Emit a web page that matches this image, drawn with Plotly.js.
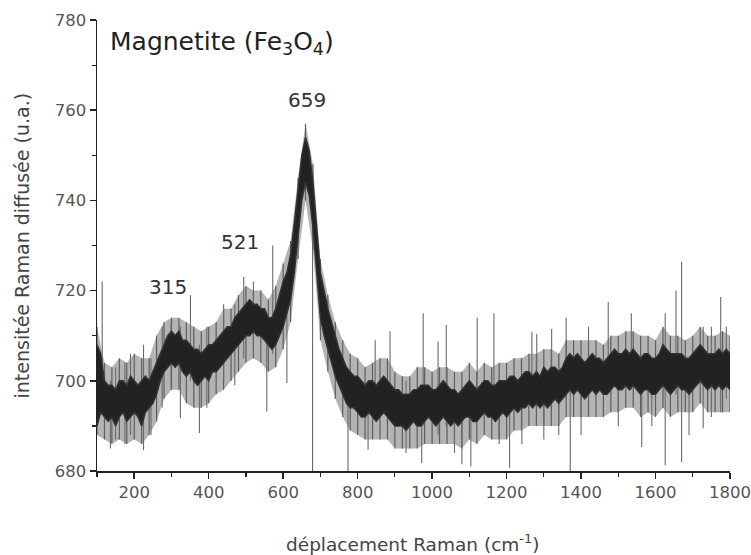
<!DOCTYPE html>
<html>
<head>
<meta charset="utf-8">
<script src="https://cdn.plot.ly/plotly-3.0.1.min.js"></script>
<style>html,body{margin:0;padding:0;background:#fff;}#chart{width:751px;height:555px;}</style>
</head>
<body>
<div id="chart"></div>
<script>
// Raman shift grid (cm-1) for the dense core of the spectrum, step 10
const bandX = [];
for (let v = 100; v <= 1800; v += 10) bandX.push(v);
// lower / upper edges of the dense (dark) band
const bandLow = [
690,693,692,691,692,690,692,693,691,692,693,692,690,693,694,695,697,700,702,703,
704,703,704,702,701,702,700,699,700,701,700,702,702,703,704,705,706,707,708,709,
710,710,711,710,710,709,708,707,708,710,712,715,718,724,732,740,744,741,734,724,
714,710,707,704,701,699,697,695,694,694,693,692,692,693,692,691,692,693,692,691,
690,690,690,689,690,691,690,690,691,692,691,690,691,692,691,690,691,690,691,692,
692,691,691,692,693,692,692,691,692,693,692,693,694,693,694,694,695,694,695,694,
695,694,695,696,695,696,697,698,697,698,697,696,697,698,697,698,697,697,698,699,
698,698,699,698,699,698,697,698,698,697,697,698,699,698,697,698,699,698,698,697,
698,699,700,699,698,699,698,699,698,699,698
];
const bandHigh = [
708,706,700,699,699,698,700,700,699,701,700,699,700,701,700,702,704,706,708,710,
711,710,711,709,709,708,707,707,706,707,708,708,709,710,711,712,712,714,715,716,
717,718,717,717,716,716,714,714,716,719,722,724,728,735,742,750,754,751,744,734,
724,720,716,713,710,707,705,703,702,701,701,700,699,700,700,699,700,701,700,699,
698,698,697,697,697,698,698,699,699,699,698,698,699,700,699,698,698,697,698,699,
700,699,698,699,700,700,699,699,700,700,700,701,701,700,701,702,702,701,702,701,
703,702,703,703,702,703,705,706,705,706,705,704,705,706,705,705,704,705,706,707,
706,706,707,706,707,706,705,706,706,705,705,706,708,707,706,706,706,706,705,705,
706,707,708,707,706,706,706,707,706,707,706
];
// outer, lighter noise envelope, step 20
const haloX = [];
for (let v = 100; v <= 1800; v += 20) haloX.push(v);
const haloLow = [
688,687,686,687,686,687,686,688,691,696,698,698,695,694,694,695,697,698,700,702,
704,705,704,702,703,707,713,727,740,729,709,702,696,692,689,688,687,687,687,687,
685,685,685,685,686,686,686,686,686,685,687,686,688,687,687,687,689,689,690,690,
690,690,690,692,692,692,692,692,692,693,693,694,694,692,693,692,694,692,693,693,
693,695,693,693,693,693
];
const haloHigh = [
712,704,703,705,704,706,705,705,710,713,714,714,713,712,711,712,713,716,716,719,
721,720,720,718,721,726,731,745,757,748,727,719,713,709,706,705,703,704,705,705,
702,701,701,703,703,702,703,703,702,702,704,702,704,703,704,704,705,705,706,706,
707,707,706,709,709,709,709,709,708,710,710,711,711,710,710,709,712,710,710,709,
710,712,710,710,711,710
];
// isolated noise spikes: position, bottom, top
const spikeX   = [114,136,150,175,190,225,245,275,299,324,351,375,395,440,470,494,520,556,572,610,679,774,828,847,887,930,972,976,1016,1038,1060,1080,1104,1121,1166,1180,1208,1241,1268,1281,1300,1321,1340,1360,1371,1400,1420,1473,1500,1535,1563,1590,1626,1655,1670,1690,1728,1750,1775,1790];
const spikeLow = [694,685,687,686,688,684.6,688,694,698,691.7,700,688.4,694,700,699,705,706,693.2,706,699.5,680,680,684.7,694,694,684,681.8,690,688,690,684,681.5,681,692,692,686,680.7,686,694,694,687,694,688,696,680,688,696,698,690,698,685.3,690,681.3,697,682,688,689.5,692,693,696];
const spikeHigh= [722,700,703,704,706,708,705,712,713,712,719,708,712,717,717,723,722,714,730,722,742,700,700,709,711,700,698,715,708.7,712.4,700,698,698,714,715,700,699,700,710.9,710.4,702,711.5,706,714,700,703,712,717.5,705,715,702,705,715,720,726.4,704,712,712,718.6,712];

const peakLabels = ['315','521','659'];
const peakLabelX = [291,485,665];
const peakLabelY = [720.8,730.8,762.3];

const sx = [], sy = [];
for (let i = 0; i < spikeX.length; i++) {
  sx.push(spikeX[i], spikeX[i], null);
  sy.push(spikeLow[i], spikeHigh[i], null);
}
// streaks of the outer noise, one per halo sample
const hx = [], hy = [];
for (let i = 0; i < haloX.length; i++) {
  hx.push(haloX[i], haloX[i], null);
  hy.push(haloLow[i], haloHigh[i], null);
}

const traces = [
  {x: haloX, y: haloLow, mode: 'lines', line: {width: 0}, hoverinfo: 'skip', showlegend: false},
  {x: haloX, y: haloHigh, mode: 'lines', line: {width: 0}, fill: 'tonexty', fillcolor: '#b4b4b4', hoverinfo: 'skip', showlegend: false},
  {x: hx, y: hy, mode: 'lines', line: {width: 1.2, color: '#5e5e5e'}, connectgaps: false, hoverinfo: 'skip', showlegend: false},
  {x: sx, y: sy, mode: 'lines', line: {width: 1.1, color: '#6a6a6a'}, connectgaps: false, hoverinfo: 'skip', showlegend: false},
  {x: bandX, y: bandLow, mode: 'lines', line: {width: 1.5, color: '#333'}, hoverinfo: 'skip', showlegend: false},
  {x: bandX, y: bandHigh, mode: 'lines', line: {width: 1.5, color: '#333'}, fill: 'tonexty', fillcolor: '#222', hoverinfo: 'skip', showlegend: false}
];

const font = 'DejaVu Sans, Arial, sans-serif';
const annotations = peakLabels.map((t, i) => ({
  x: peakLabelX[i], y: peakLabelY[i], xref: 'x', yref: 'y', text: t, showarrow: false,
  font: {family: font, size: 20, color: '#333'}, xanchor: 'center', yanchor: 'middle'
}));
annotations.push({
  x: 130, y: 775, xref: 'x', yref: 'y', text: 'Magnetite (Fe<sub>3</sub>O<sub>4</sub>)', showarrow: false,
  font: {family: font, size: 25, color: '#222'}, xanchor: 'left', yanchor: 'middle'
});
annotations.push({
  x: 0.499, y: -0.16, xref: 'paper', yref: 'paper', text: 'déplacement Raman (cm<sup>-1</sup>)', showarrow: false,
  font: {family: font, size: 18.5, color: '#444'}, xanchor: 'center', yanchor: 'middle'
});
annotations.push({
  x: -0.1185, y: 0.5, xref: 'paper', yref: 'paper', text: 'intensitée Raman diffusée (u.a.)', showarrow: false,
  textangle: -90, font: {family: font, size: 19, color: '#444'}, xanchor: 'center', yanchor: 'middle'
});

const layout = {
  width: 751, height: 555,
  margin: {l: 97, r: 21, t: 20, b: 84},
  paper_bgcolor: '#fff', plot_bgcolor: '#fff',
  showlegend: false,
  xaxis: {
    range: [100, 1800], tick0: 0, dtick: 200, showgrid: false, zeroline: false,
    showline: true, linecolor: '#222', linewidth: 1.5, ticks: 'outside', ticklen: 6, tickwidth: 1.5, tickcolor: '#222',
    tickfont: {family: font, size: 16.5, color: '#555'},
    minor: {dtick: 100, tick0: 100, ticks: 'outside', ticklen: 4, tickwidth: 1.2, tickcolor: '#222', showgrid: false}
  },
  yaxis: {
    range: [680, 780], tick0: 680, dtick: 20, showgrid: false, zeroline: false,
    showline: true, linecolor: '#222', linewidth: 1.5, ticks: 'outside', ticklen: 6, tickwidth: 1.5, tickcolor: '#222',
    tickfont: {family: font, size: 16.5, color: '#555'},
    minor: {dtick: 10, tick0: 680, ticks: 'outside', ticklen: 4, tickwidth: 1.2, tickcolor: '#222', showgrid: false}
  },
  annotations: annotations
};

Plotly.newPlot('chart', traces, layout, {displayModeBar: false, staticPlot: true});
</script>
</body>
</html>
